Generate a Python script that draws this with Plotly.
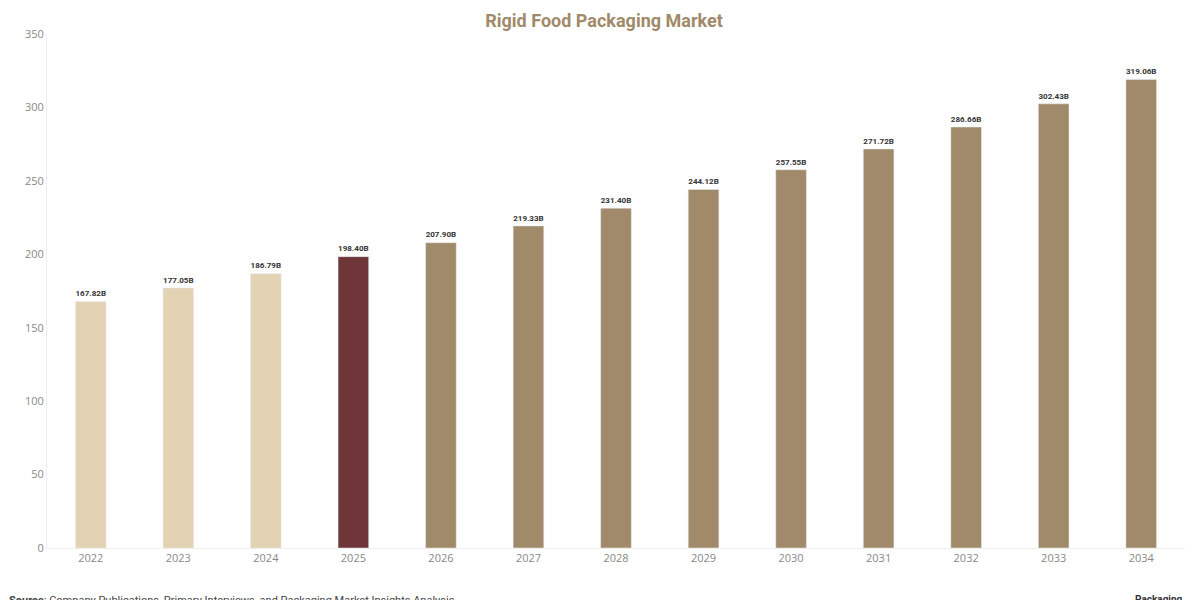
import plotly.graph_objects as go

years = ["2022","2023","2024","2025","2026","2027","2028","2029","2030","2031","2032","2033","2034"]
values = [167.82,177.05,186.79,198.40,207.90,219.33,231.40,244.12,257.55,271.72,286.66,302.43,319.06]
labels = ["167.82B","177.05B","186.79B","198.40B","207.90B","219.33B","231.40B","244.12B","257.55B","271.72B","286.66B","302.43B","319.06B"]
colors = ["#e3d3b4"]*3 + ["#6e3638"] + ["#a08a6a"]*9

fig = go.Figure(go.Bar(x=years, y=values, marker_color=colors,
    text=["<b>%s</b>" % t for t in labels],
    textposition="outside", textfont=dict(family="Roboto", size=11, color="#333"),
    cliponaxis=False))
fig.update_layout(
    width=1192, height=592, plot_bgcolor="white", paper_bgcolor="white",
    margin=dict(l=39, r=15, t=26, b=52), bargap=0.65, showlegend=False,
    title=dict(text="<b>Rigid Food Packaging Market</b>", x=0.5, y=0.99, xanchor="center", yanchor="top",
               font=dict(family="Roboto", size=18, color="#a08a6a")),
    xaxis=dict(showgrid=False, tickfont=dict(size=11, color="#888"), ticks="", showline=True, linecolor="#eee"),
    yaxis=dict(range=[0,350], dtick=50, showgrid=False, zeroline=False, showline=True, linecolor="#eee",
               tickfont=dict(size=11, color="#888")),
    annotations=[
        dict(text="<b>Source</b>: Company Publications, Primary Interviews, and Packaging Market Insights Analysis",
             xref="paper", yref="paper", x=-0.035, y=-0.085, xanchor="left", yanchor="top",
             showarrow=False, font=dict(family="Roboto", size=11, color="#444")),
        dict(text="<b>Packaging</b>", xref="paper", yref="paper", x=1.0, y=-0.085, xanchor="right",
             yanchor="top", showarrow=False, font=dict(family="Roboto", size=10, color="#333")),
    ])
fig.write_html("out.html")
